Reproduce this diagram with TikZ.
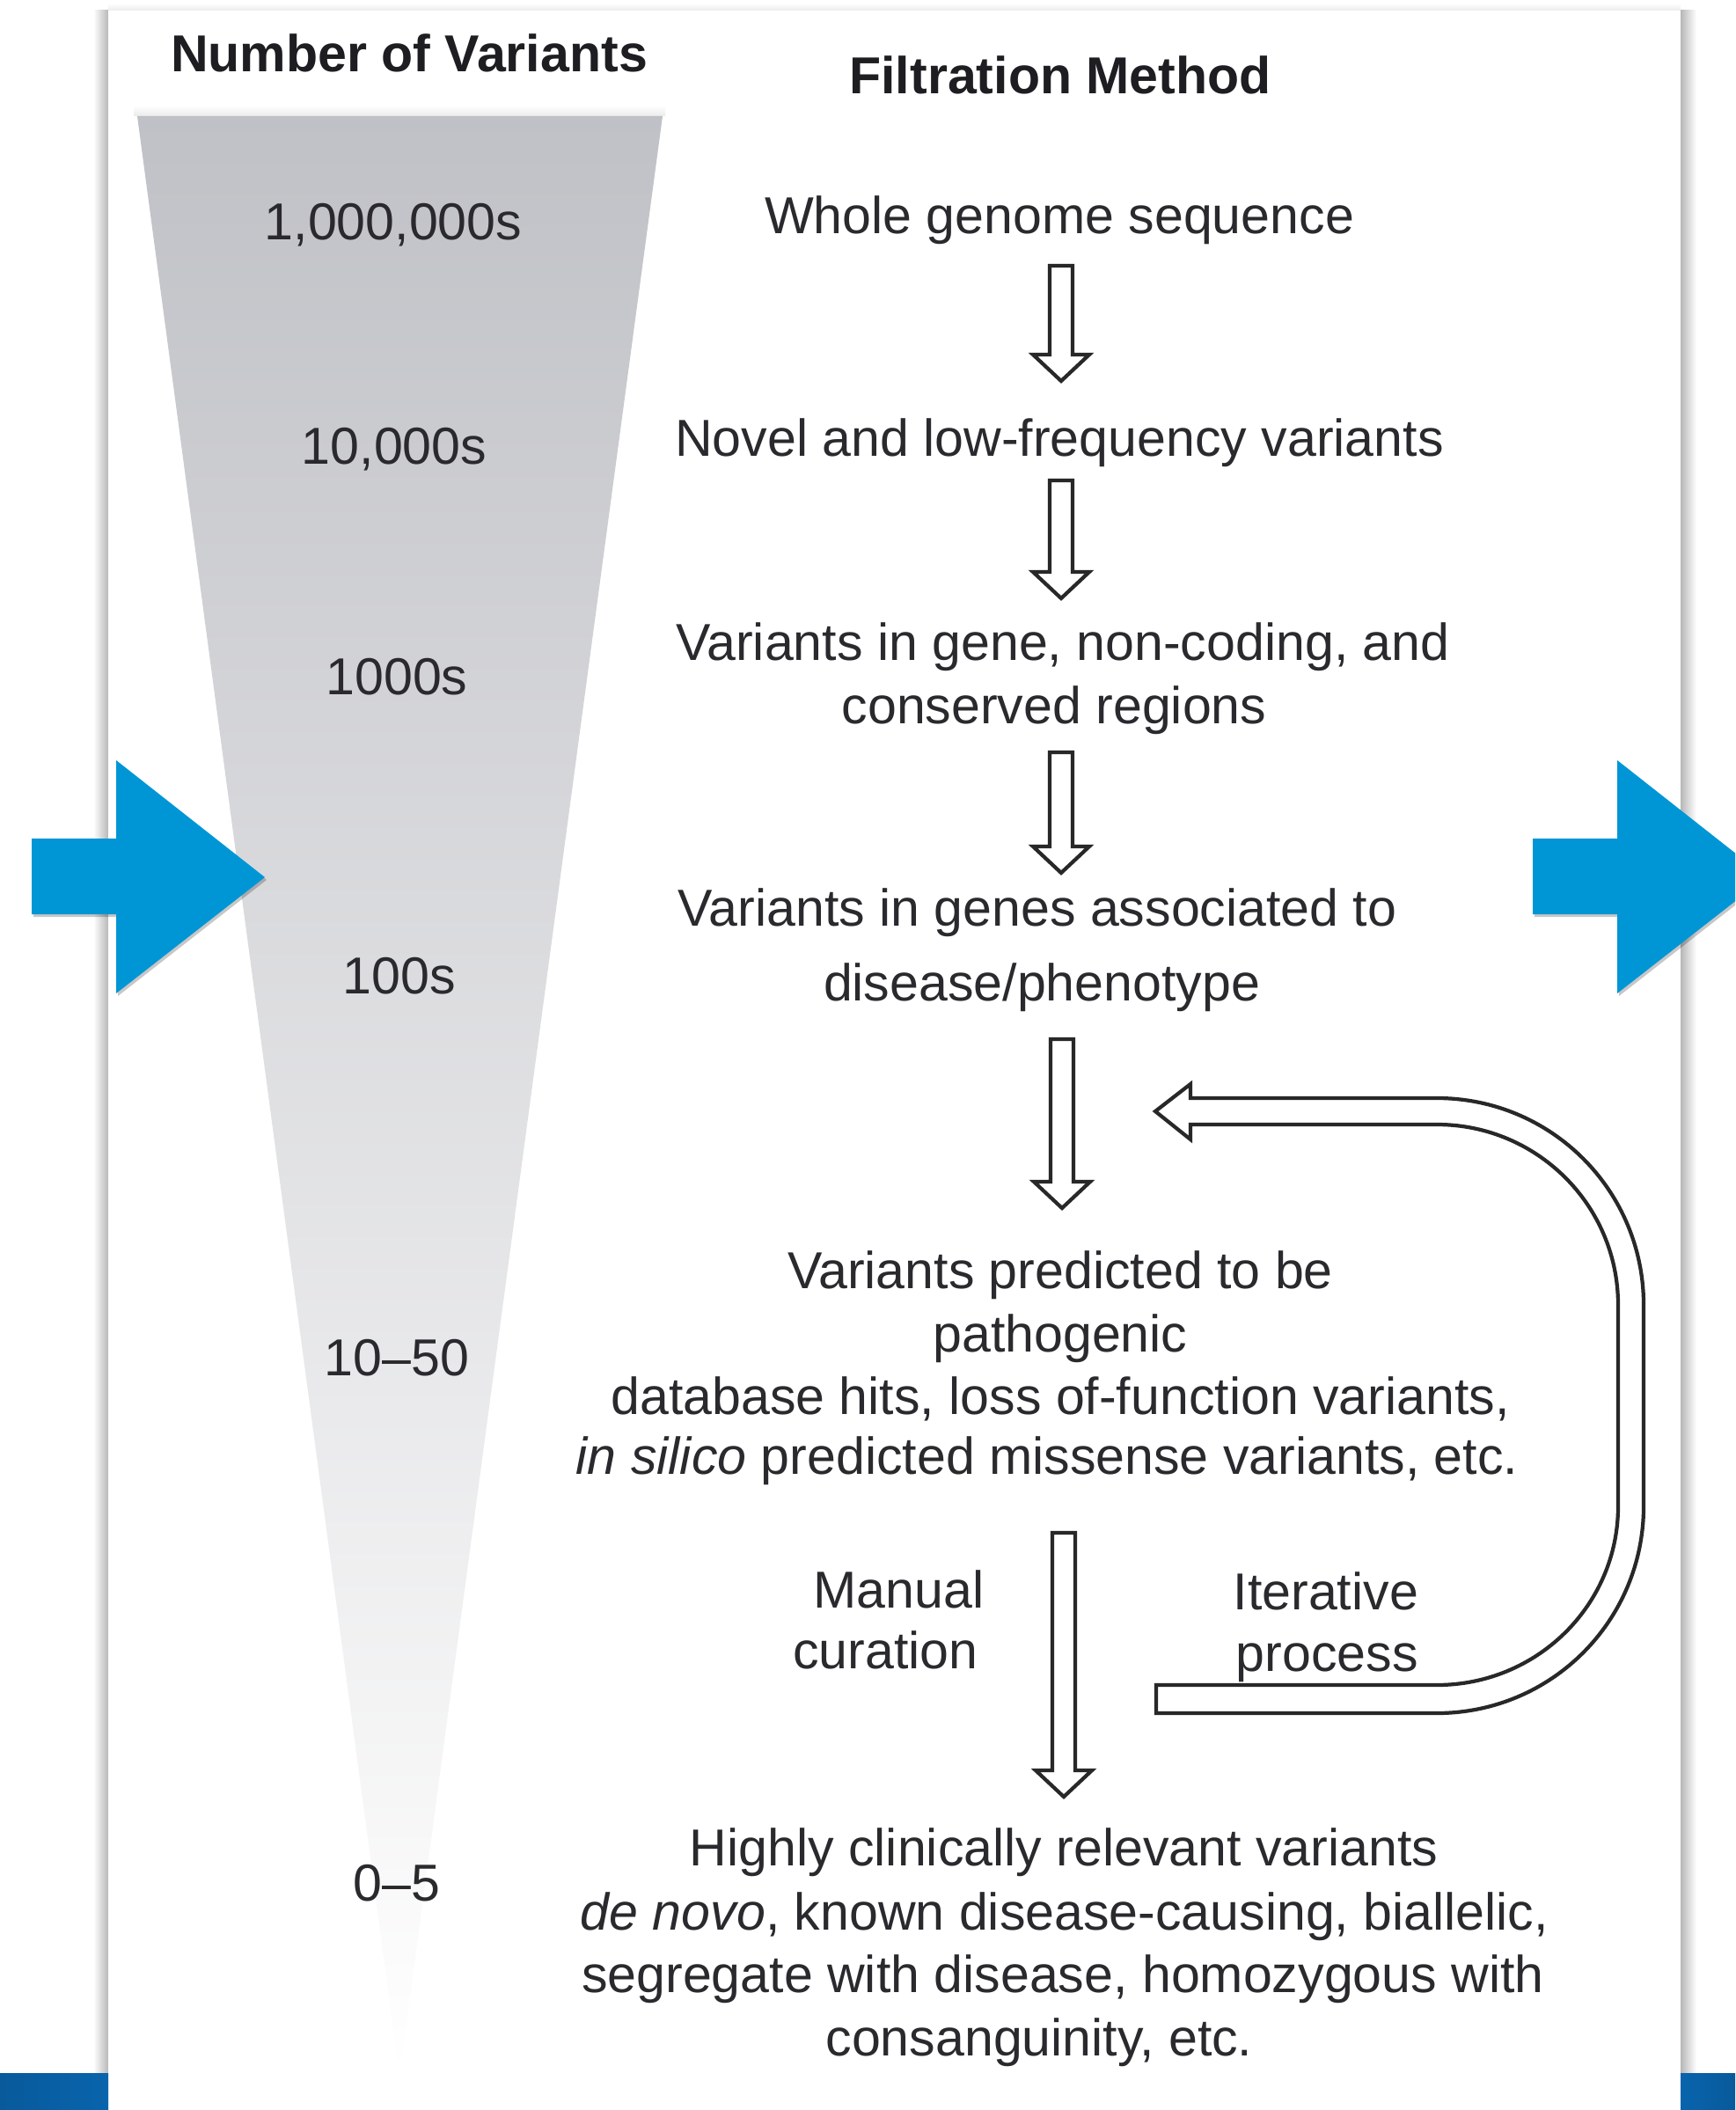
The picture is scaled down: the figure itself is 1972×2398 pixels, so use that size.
\documentclass[tikz,border=0pt]{standalone}
\usepackage{fontspec}
\setmainfont{Liberation Sans}
\usetikzlibrary{calc}
\definecolor{txt}{RGB}{42,42,46}
\definecolor{headtxt}{RGB}{30,30,34}
\definecolor{blueA}{RGB}{0,150,214}
\definecolor{barblue}{RGB}{9,100,172}
\definecolor{funtop}{RGB}{192,193,198}
\definecolor{linegray}{RGB}{40,40,40}
\tikzset{
  lbl/.style={anchor=base, inner sep=0pt, text=txt, font=\fontsize{16.8}{20.5}\selectfont},
  headlbl/.style={anchor=base, inner sep=0pt, text=headtxt, font=\bfseries\fontsize{16.8}{20.5}\selectfont},
  hollow/.style={draw=linegray, line width=1.2pt, fill=white, line join=miter},
  bluearrow/.style={fill=blueA},
  arrowshadow/.style={fill=black, opacity=0.22},
}
\newcommand\hollowdown[2]{%
  \draw[hollow] ($(#1)+(-13,0)$) -- ($(#2)+(-13,-30)$) -- ($(#2)+(-32,-30)$) -- (#2)
    -- ($(#2)+(32,-30)$) -- ($(#2)+(13,-30)$) -- ($(#1)+(13,0)$) -- cycle;}
\newcommand\bluearrowpath{(0,0) -- (96,0) -- (96,-89) -- (265,44) -- (96,176) -- (96,86) -- (0,86) -- cycle}
\begin{document}
\begin{tikzpicture}[x=0.01cm,y=-0.01cm]
\useasboundingbox (0,0) rectangle (1972,2398);
\fill[white] (0,0) rectangle (1972,2398);
% card with soft shadow
\shade[left color=white, right color=black!28] (106,12) rectangle (123,2398);
\shade[left color=black!28, right color=white] (1910,12) rectangle (1928,2398);
\shade[top color=white, bottom color=black!8] (123,4) rectangle (1910,12);
\fill[white] (123,12) rectangle (1910,2398);
% funnel
\shade[top color=white, bottom color=black!8] (152,120) rectangle (756,132);
\shade[top color=funtop, bottom color=white] (156,132) -- (753,132) -- (454,2358) -- cycle;
% headings
\node[headlbl] (hNum) at (465,82) {Number of Variants};
\node[headlbl] (hFil) at (1205,107) {Filtration Method};
% numbers
\node[lbl] (n1) at (447,273) {1,000,000s};
\node[lbl] (n2) at (448,528) {10,000s};
\node[lbl] (n3) at (451,789) {1000s};
\node[lbl] (n4) at (454,1129) {100s};
\node[lbl] (n5) at (451,1563) {10--50};
\node[lbl] (n6) at (451,2160) {0--5};
% filtration steps
\node[lbl] (s1) at (1204,266) {Whole genome sequence};
\node[lbl] (s2) at (1204,519) {Novel and low-frequency variants};
\node[lbl] (s3a) at (1208,750) {Variants in gene, non-coding, and};
\node[lbl] (s3b) at (1198,822) {conserved regions};
\node[lbl] (s4a) at (1179,1052) {Variants in genes associated to};
\node[lbl] (s4b) at (1184,1137) {disease/phenotype};
\node[lbl] (s5a) at (1205,1464) {Variants predicted to be};
\node[lbl] (s5b) at (1205,1536) {pathogenic};
\node[lbl] (s5c) at (1205,1607) {database hits, loss of-function variants,};
\node[lbl] (s5d) at (1190,1675) {\textit{in silico} predicted missense variants, etc.};
\node[lbl, anchor=base east] (m1) at (1119,1827) {Manual};
\node[lbl, anchor=base east] (m2) at (1112,1896) {curation};
\node[lbl, anchor=base west] (i1) at (1401,1829) {Iterative};
\node[lbl, anchor=base west] (i2) at (1404,1899) {process};
\node[lbl] (s6a) at (1209,2120) {Highly clinically relevant variants};
\node[lbl] (s6b) at (1210,2193) {\textit{de novo}, known disease-causing, biallelic,};
\node[lbl] (s6c) at (1208,2264) {segregate with disease, homozygous with};
\node[lbl] (s6d) at (1181,2336) {consanguinity, etc.};
% hollow arrows
\coordinate (a1s) at (1206,302);  \coordinate (a1e) at (1206,433);
\coordinate (a2s) at (1206,546);  \coordinate (a2e) at (1206,680);
\coordinate (a3s) at (1206,855);  \coordinate (a3e) at (1206,992);
\coordinate (a4s) at (1207,1181); \coordinate (a4e) at (1207,1373);
\coordinate (a5s) at (1209,1742); \coordinate (a5e) at (1209,2042);
\hollowdown{a1s}{a1e}
\hollowdown{a2s}{a2e}
\hollowdown{a3s}{a3e}
\hollowdown{a4s}{a4e}
\hollowdown{a5s}{a5e}
% iterative loop arrow
\coordinate (cTail) at (1314,1931);
\coordinate (cTip) at (1313,1263);
\draw[hollow] ($(cTail)+(0,16)$) -- (1633,1947)
  .. controls (1763,1947) and (1868,1842) .. (1868,1712) -- (1868,1483)
  .. controls (1868,1353) and (1763,1248) .. (1633,1248)
  -- ($(cTip)+(40,-15)$) -- ($(cTip)+(40,-31)$) -- (cTip) -- ($(cTip)+(40,32)$) -- ($(cTip)+(40,15)$)
  -- (1633,1278) .. controls (1747,1278) and (1839,1370) .. (1839,1483) -- (1839,1712)
  .. controls (1839,1824) and (1747,1915) .. (1633,1915) -- ($(cTail)+(0,-16)$) -- cycle;
% blue arrows
\begin{scope}[shift={(38,956)}]
  \fill[arrowshadow] \bluearrowpath;
\end{scope}
\begin{scope}[shift={(36,953)}]
  \fill[bluearrow] \bluearrowpath;
\end{scope}
\begin{scope}
  \clip (0,0) rectangle (1972,2398);
  \begin{scope}[shift={(1744,956)}]
    \fill[arrowshadow] \bluearrowpath;
  \end{scope}
  \begin{scope}[shift={(1742,953)}]
    \fill[bluearrow] \bluearrowpath;
  \end{scope}
\end{scope}
% bottom bars
\shade[left color=barblue!90!black, right color=barblue] (0,2356) rectangle (123,2398);
\shade[left color=barblue, right color=barblue!90!black] (1910,2356) rectangle (1972,2398);
\end{tikzpicture}
\end{document}
